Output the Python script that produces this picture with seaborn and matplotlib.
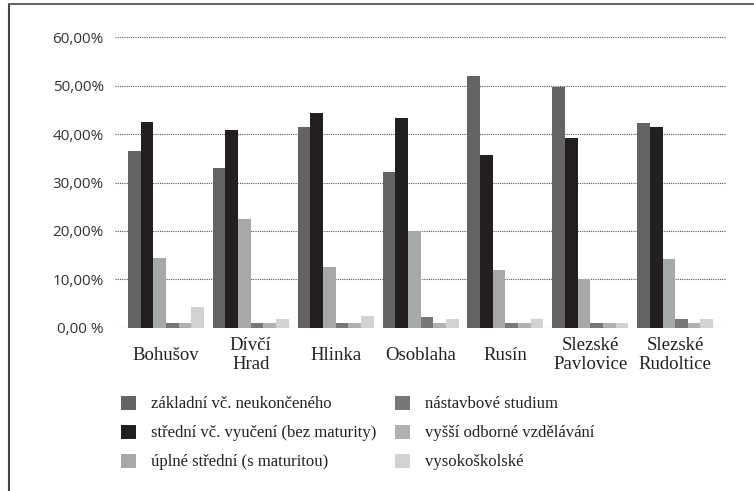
import numpy as np
import pandas as pd
import matplotlib
matplotlib.use('Agg')
import matplotlib.pyplot as plt
import seaborn as sns
from matplotlib.lines import Line2D

obce = ['Bohušov', 'Dívčí\nHrad', 'Hlinka', 'Osoblaha', 'Rusín',
        'Slezské\nPavlovice', 'Slezské\nRudoltice']

vzdelani = ['základní vč. neukončeného',
            'střední vč. vyučení (bez maturity)',
            'úplné střední (s maturitou)',
            'nástavbové studium',
            'vyšší odborné vzdělávání',
            'vysokoškolské']

zakladni = [36.5, 33.0, 41.5, 32.2, 52.0, 49.7, 42.3]
stredni = [42.5, 40.8, 44.4, 43.3, 35.7, 39.2, 41.5]
uplne = [14.4, 22.5, 12.5, 20.0, 11.9, 10.1, 14.2]
nastavbove = [1.0, 1.0, 1.0, 2.2, 1.0, 1.0, 1.8]
vyssi = [1.0, 1.0, 1.0, 1.0, 1.0, 1.0, 1.0]
vysoke = [4.3, 1.8, 2.4, 1.8, 1.8, 1.0, 1.8]

barvy = ['#646466', '#231f20', '#a7a8aa', '#77777a', '#b1b1b4', '#d1d2d3']

y_ticks = [0, 10, 20, 30, 40, 50, 60]
y_labels = ['0,00 %', '10,00%', '20,00%', '30,00%', '40,00%', '50,00%', '60,00%']

serie = [zakladni, stredni, uplne, nastavbove, vyssi, vysoke]
rows = []
for name, vals in zip(vzdelani, serie):
    for obec, v in zip(obce, vals):
        rows.append({'obec': obec, 'vzdelani': name, 'podil': v})
df = pd.DataFrame(rows)

sns.set_style('white')
plt.rcParams['font.family'] = ['Liberation Serif', 'DejaVu Serif']

fig = plt.figure(figsize=(7.54, 4.91), dpi=100)
ax = fig.add_axes([0.1525, 0.3326, 0.8105, 0.5914])

sns.barplot(data=df, x='obec', y='podil', hue='vzdelani', order=obce,
            hue_order=vzdelani, palette=barvy, saturation=1, width=0.895,
            errorbar=None, ax=ax, legend=False)

for p in ax.patches:
    p.set_edgecolor('none')

ax.set_ylim(0, 60)
ax.set_xlim(-0.6, 6.6)
ax.set_yticks(y_ticks)
ax.set_yticklabels(y_labels, family=['Open Sans', 'DejaVu Sans'], fontsize=11, color='#333333')
ax.set_xticks(range(len(obce)))
ax.set_xticklabels(obce, fontsize=13.5, color='#222222', va='center', linespacing=1.15)
ax.tick_params(axis='both', length=0)
ax.tick_params(axis='x', pad=20)
ax.tick_params(axis='y', pad=8)
ax.set_xlabel('')
ax.set_ylabel('')
ax.yaxis.grid(True, linestyle=(0, (1, 1)), color='#555555', linewidth=0.8)
ax.set_axisbelow(True)
for s in ax.spines.values():
    s.set_visible(False)

handles = [plt.Rectangle((0, 0), 1, 1, facecolor=c, edgecolor='none') for c in barvy]
fig.legend(handles, vzdelani, loc='upper left', bbox_to_anchor=(0.161, 0.194),
           ncol=2, frameon=False, fontsize=12, handlelength=0.9, handleheight=0.9,
           handletextpad=0.9, labelspacing=0.74, columnspacing=1.1,
           borderaxespad=0, borderpad=0, labelcolor='#222222')

# rámeček
fig.add_artist(Line2D([9 / 754, 9 / 754], [0, 1 - 4 / 491], color='#444444', lw=1.5))
fig.add_artist(Line2D([9 / 754, 1], [1 - 4 / 491, 1 - 4 / 491], color='#666666', lw=1.5))

fig.savefig('out.png', dpi=100)
